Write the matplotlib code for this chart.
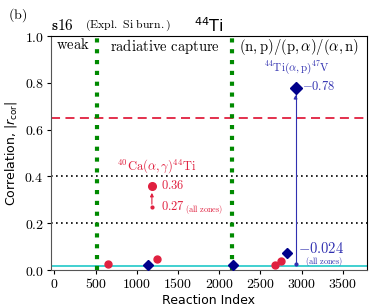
import matplotlib
matplotlib.use("Agg")
import matplotlib.pyplot as plt

plt.rcParams['mathtext.fontset'] = 'cm'
plt.rcParams['font.family'] = 'DejaVu Sans'

# data
red_x = [653, 1244, 2676, 2745]
red_y = [0.025, 0.047, 0.021, 0.038]
blue_x = [1131, 2170, 2818]
blue_y = [0.022, 0.022, 0.071]
ca_x = 1183
ca_val = 0.36
ca_all = 0.27
ti_x = 2927
ti_val = 0.78
ti_all = 0.024
region_bounds = [519, 2158]
threshold = 0.65
grid_levels = [0.2, 0.4]
cyan_level = 0.018
xticks = [0, 500, 1000, 1500, 2000, 2500, 3000, 3500]
yticks = [0.0, 0.2, 0.4, 0.6, 0.8, 1.0]

red = '#e0203f'
dblue = '#00008b'
tblue = '#3030b0'

fig = plt.figure(figsize=(3.73, 3.08), dpi=100)
ax = fig.add_axes([0.136, 0.123, 0.847, 0.760])
ax.set_xlim(-45, 3790)
ax.set_ylim(0, 1.0)

for lv in grid_levels:
    ax.axhline(lv, color='black', ls=(0, (1, 2)), lw=1.2, zorder=1)
ax.axhline(threshold, color=red, ls=(0, (5, 3)), lw=1.3, zorder=1)
ax.axhline(cyan_level, color='#20c8c8', lw=1.2, zorder=1)
for b in region_bounds:
    ax.axvline(b, color='#008a00', ls=(0, (1, 1.6)), lw=3.0, zorder=1)

ax.plot(red_x, red_y, 'o', color=red, ms=5, zorder=3, lw=0)
ax.plot(blue_x, blue_y, 'D', color=dblue, ms=5, zorder=3, lw=0)

# Ca reaction
ax.plot([ca_x], [ca_val], 'o', color=red, ms=5.5, zorder=3)
ax.plot([ca_x], [ca_all], 'o', color=red, ms=2, zorder=3)
ax.annotate('', xy=(ca_x, ca_val - 0.018), xytext=(ca_x, ca_all),
            arrowprops=dict(arrowstyle='-|>', color=red, lw=0.8, mutation_scale=5))
ax.text(1245, 0.445, r'$^{40}\mathrm{Ca}(\alpha,\gamma)^{44}\mathrm{Ti}$', color=red,
        fontsize=9, ha='center', va='center')
ax.text(ca_x + 110, ca_val, r'$0.36$', color=red, fontsize=9, ha='left', va='center')
ax.text(ca_x + 110, ca_all, r'$0.27$', color=red, fontsize=9, ha='left', va='center')
ax.text(ca_x + 400, ca_all - 0.012, r'$\mathrm{(all\ zones)}$', color=red, fontsize=6, ha='left', va='center')

# Ti reaction
ax.plot([ti_x, ti_x], [ti_all, ti_val], color=tblue, lw=0.8, zorder=2)
ax.plot([ti_x], [ti_val], 'D', color=dblue, ms=6, zorder=3)
ax.plot([ti_x], [ti_all], 'o', color=tblue, ms=2, zorder=3)
ax.annotate('', xy=(ti_x, ti_val - 0.02), xytext=(ti_x, ti_val - 0.06),
            arrowprops=dict(arrowstyle='-|>', color=tblue, lw=0.8, mutation_scale=5))
ax.text(ti_x + 20, 0.866, r'$^{44}\mathrm{Ti}(\alpha,\mathrm{p})^{47}\mathrm{V}$', color=tblue,
        fontsize=8, ha='center', va='center')
ax.text(ti_x + 80, ti_val + 0.005, r'$-0.78$', color=tblue, fontsize=9, ha='left', va='center')
ax.text(ti_x + 25, 0.094, r'$-0.024$', color=tblue, fontsize=10.5, ha='left', va='center')
ax.text(ti_x + 120, 0.036, r'$\mathrm{(all\ zones)}$', color=tblue, fontsize=6, ha='left', va='center')

# region labels
ax.text(20, 0.995, r'$\mathrm{weak}$', fontsize=10.5, ha='left', va='top')
ax.text(1345, 0.995, r'$\mathrm{radiative\ capture}$', fontsize=10.5, ha='center', va='top')
ax.text(2970, 0.995, r'$\mathrm{(n,p)/(p,}\alpha\mathrm{)/(}\alpha\mathrm{,n)}$', fontsize=10.5, ha='center', va='top')

ax.set_xticks(xticks)
ax.set_xticklabels([r'$%d$' % t for t in xticks], fontsize=10)
ax.set_yticks(yticks)
ax.set_yticklabels([r'$%.1f$' % t for t in yticks], fontsize=10)
ax.tick_params(length=3, width=0.8, pad=2)
for s in ['left', 'bottom']:
    ax.spines[s].set_color('#555555')
for s in ['top', 'right']:
    ax.spines[s].set_color('black')

ax.set_xlabel('Reaction Index', fontsize=9, labelpad=2)
ax.set_ylabel(r'Correlation, $|r_{\rm cor}|$', fontsize=9, labelpad=4, math_fontfamily='dejavusans')
ax.set_title(r'$^{44}$Ti', fontsize=11.5, pad=3, math_fontfamily='dejavusans')

fig.text(0.022, 0.952, r'$\mathrm{(b)}$', fontsize=10, ha='left', va='center')
ax.text(0.0, 1.015, r'$\mathbf{s16}$', transform=ax.transAxes, fontsize=11, ha='left', va='bottom')
ax.text(0.11, 1.015, r'$\mathrm{(Expl.\ Si\ burn.)}$', transform=ax.transAxes, fontsize=8.5, ha='left', va='bottom')

fig.savefig('out.png', dpi=100)
